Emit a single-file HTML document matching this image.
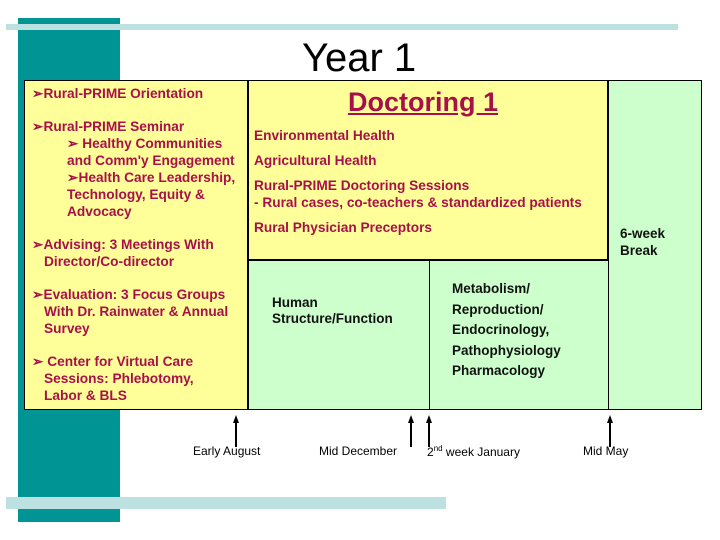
<!DOCTYPE html>
<html><head><style>
body{margin:0;width:720px;height:540px;background:#fff;position:relative;overflow:hidden;font-family:"Liberation Sans",Arial,sans-serif}
div{position:absolute}
.t{color:#a8104a;font-weight:bold;font-size:13.7px;line-height:17px;white-space:nowrap}
.k{color:#111;font-weight:bold;font-size:13.5px;white-space:nowrap}
.ar{width:2px;background:#000}
.ah{width:0;height:0;border-left:3px solid transparent;border-right:3px solid transparent;border-bottom:8px solid #000}
</style></head><body>
<div style="left:18px;top:18px;width:102px;height:504px;background:#009494"></div>
<div style="left:6px;top:24px;width:672px;height:6px;background:#bde0e0"></div>
<div style="left:6px;top:497px;width:440px;height:12px;background:#bde0e0"></div>
<div style="left:302px;top:35px;font-size:40px;color:#000;line-height:46px">Year 1</div>
<div style="left:24px;top:80px;width:224px;height:330px;background:#ffff99;border:1px solid #000;box-sizing:border-box"></div>
<div style="left:248px;top:80px;width:360px;height:180px;background:#ffff99;border:1px solid #000;box-sizing:border-box"></div>
<div style="left:248px;top:260px;width:182px;height:150px;background:#ccffcc;border:1px solid #000;box-sizing:border-box"></div>
<div style="left:429px;top:260px;width:180px;height:150px;background:#ccffcc;border:1px solid #000;box-sizing:border-box"></div>
<div style="left:608px;top:80px;width:94px;height:330px;background:#ccffcc;border:1px solid #000;box-sizing:border-box"></div>

<div class="t" style="left:32px;top:85px">➢Rural-PRIME Orientation</div>
<div class="t" style="left:32px;top:118px">➢Rural-PRIME Seminar<br><span style="padding-left:35px">➢ Healthy Communities</span><br><span style="padding-left:35px">and Comm'y Engagement</span><br><span style="padding-left:35px">➢Health Care Leadership,</span><br><span style="padding-left:35px">Technology, Equity &amp;</span><br><span style="padding-left:35px">Advocacy</span></div>
<div class="t" style="left:32px;top:236px">➢Advising: 3 Meetings With<br><span style="padding-left:12px">Director/Co-director</span></div>
<div class="t" style="left:32px;top:286px">➢Evaluation: 3 Focus Groups<br><span style="padding-left:12px">With Dr. Rainwater &amp; Annual</span><br><span style="padding-left:12px">Survey</span></div>
<div class="t" style="left:32px;top:353px">➢ Center for Virtual Care<br><span style="padding-left:12px">Sessions: Phlebotomy,</span><br><span style="padding-left:12px">Labor &amp; BLS</span></div>

<div class="t" style="left:348px;top:86px;font-size:27px;line-height:32px;text-decoration:underline">Doctoring 1</div>
<div class="t" style="left:254px;top:127px">Environmental Health</div>
<div class="t" style="left:254px;top:152px">Agricultural Health</div>
<div class="t" style="left:254px;top:177px">Rural-PRIME Doctoring Sessions<br>- Rural cases, co-teachers &amp; standardized patients</div>
<div class="t" style="left:254px;top:219px">Rural Physician Preceptors</div>

<div class="k" style="left:620px;top:225px;line-height:17px">6-week<br>Break</div>
<div class="k" style="left:272px;top:295px;line-height:16px">Human<br>Structure/Function</div>
<div class="k" style="left:452px;top:279px;line-height:20.5px">Metabolism/<br>Reproduction/<br>Endocrinology,<br>Pathophysiology<br>Pharmacology</div>

<div class="ah" style="left:233px;top:415px"></div><div class="ar" style="left:235px;top:420px;height:27px"></div>
<div class="ah" style="left:408px;top:415px"></div><div class="ar" style="left:410px;top:420px;height:27px"></div>
<div class="ah" style="left:426px;top:415px"></div><div class="ar" style="left:428px;top:420px;height:27px"></div>
<div class="ah" style="left:607px;top:415px"></div><div class="ar" style="left:609px;top:420px;height:27px"></div>
<div style="left:193px;top:444px;font-size:12px;color:#000">Early August</div>
<div style="left:319px;top:444px;font-size:12px;color:#000">Mid December</div>
<div style="left:427px;top:444px;font-size:12px;color:#000">2<sup style="font-size:8px">nd</sup> week January</div>
<div style="left:583px;top:444px;font-size:12px;color:#000">Mid May</div>
</body></html>
